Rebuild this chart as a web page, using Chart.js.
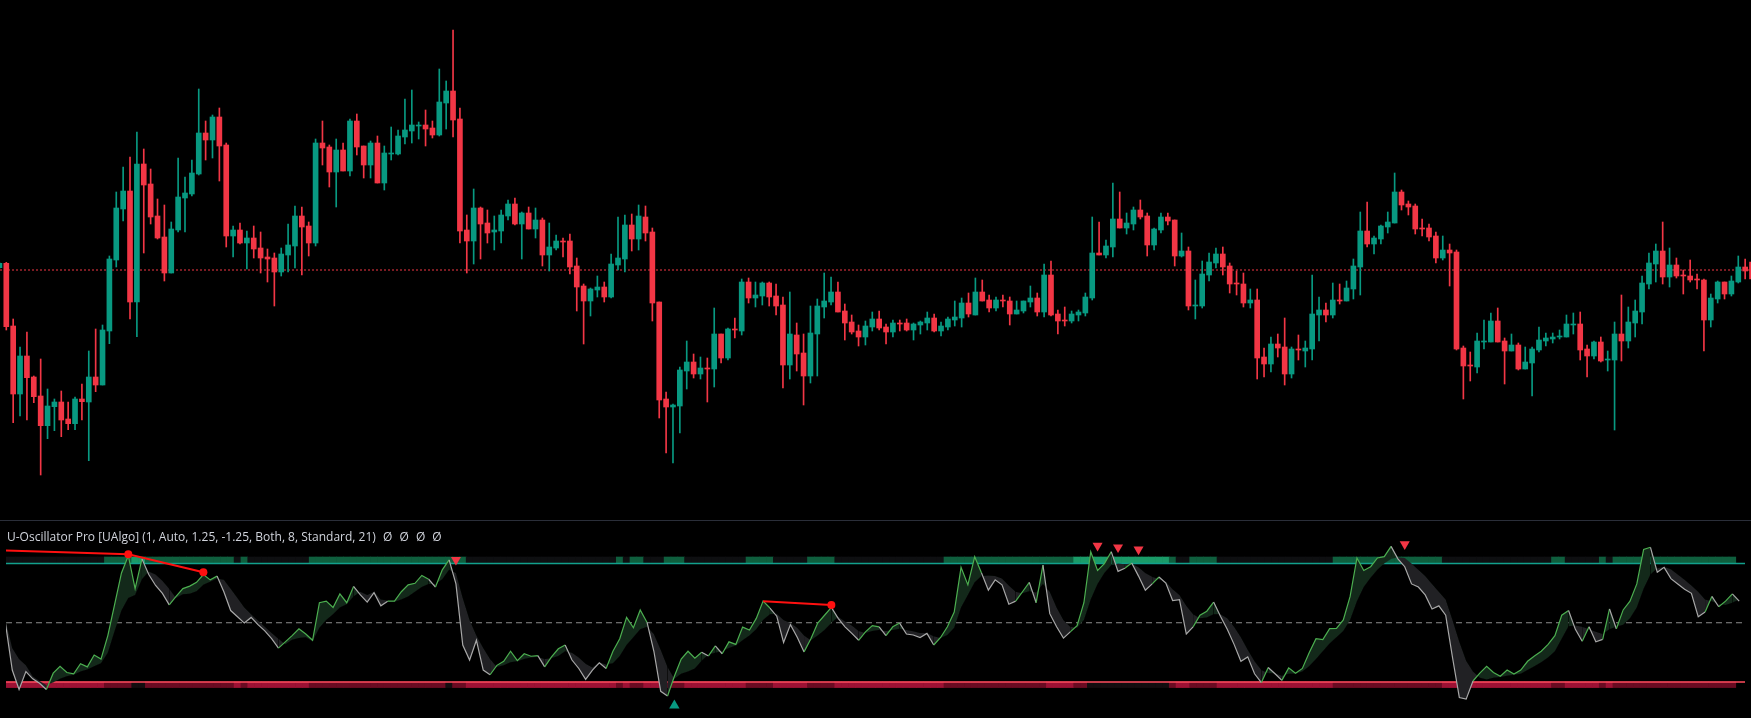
<!DOCTYPE html>
<html>
<head>
<meta charset="utf-8">
<script src="https://cdn.jsdelivr.net/npm/chart.js@4.4.0/dist/chart.umd.min.js"></script>
<style>
  html, body { margin: 0; padding: 0; background: #000; overflow: hidden; }
  #wrap { position: relative; width: 1751px; height: 718px; background: #000; }
  #priceChart { position: absolute; left: 0; top: 0; }
  #oscChart { position: absolute; left: 0; top: 520px; }
  #sep { position: absolute; left: 0; top: 520px; width: 1751px; height: 1px; background: #2a2e39; }
  #legend { position: absolute; left: 7px; top: 528px; font: 12px "Open Sans", sans-serif; color: #d1d4dc; white-space: pre; line-height: 17px; }
  #legend span.z { margin-left: 4px; }
</style>
</head>
<body>
<div id="wrap">
  <canvas id="priceChart" width="1751" height="520"></canvas>
  <canvas id="oscChart" width="1751" height="198"></canvas>
  <div id="sep"></div>
  <div id="legend">U-Oscillator Pro [UAlgo] (1, Auto, 1.25, -1.25, Both, 8, Standard, 21) <span class="z">Ø</span> <span class="z">Ø</span> <span class="z">Ø</span> <span class="z">Ø</span></div>
</div>
<script>
// price candles, one bar per entry
var opens = [
  757,770,582,378,492,429,372,283,340,354,303,289,363,354,429,405,
  567,780,933,987,654,1068,1008,912,849,741,870,966,978,1038,1161,1140,
  1209,1125,852,870,831,846,816,789,786,744,795,822,912,882,831,1131,
  1119,1044,1110,1047,1197,1122,1065,1131,1011,1098,1098,1149,1167,1182,1185,1176,
  1155,1251,1287,1203,870,837,936,891,864,867,912,948,888,921,873,900,
  795,816,837,837,762,702,657,690,699,669,765,783,885,843,909,864,
  654,363,339,342,447,474,438,456,453,558,486,573,567,714,666,672,
  711,672,645,465,555,501,432,558,639,654,684,627,594,567,549,579,
  603,579,564,591,591,570,585,591,606,567,579,600,606,651,615,684,
  660,636,660,657,618,627,654,666,624,735,618,600,597,615,621,666,
  801,795,819,903,876,888,930,912,825,870,909,900,792,807,642,642,
  735,771,798,762,711,708,651,660,489,468,528,519,438,513,507,513,
  615,630,615,660,657,693,759,867,828,843,879,891,984,948,942,876,
  876,852,786,810,804,516,465,459,534,534,597,537,507,525,453,471,
  510,537,543,549,549,585,588,513,492,534,480,480,558,537,591,624,
  708,768,807,729,765,735,732,723,720,600,663,714,678,714,759,774
];
var highs = [
  772,773,603,519,564,432,483,393,363,387,354,369,408,507,573,585,
  792,984,1059,1089,1164,1113,1053,963,945,894,1086,1029,1080,1293,1197,1215,
  1236,1131,882,891,867,882,864,813,801,816,888,942,939,894,1143,1197,
  1125,1143,1131,1203,1218,1122,1137,1152,1122,1179,1170,1263,1290,1194,1230,1197,
  1353,1317,1470,1236,915,993,939,930,912,930,960,966,924,939,936,906,
  891,855,846,858,786,708,696,732,714,798,909,915,918,945,942,876,
  654,384,348,459,537,498,489,486,636,558,576,606,723,726,714,714,
  714,708,669,684,591,558,642,663,741,729,714,648,615,585,597,624,
  627,588,600,600,603,591,597,624,618,594,609,657,666,681,726,720,
  675,669,675,669,657,657,702,681,768,777,630,639,627,630,681,909,
  894,840,1011,984,921,939,960,921,876,921,921,900,861,819,720,777,
  801,816,819,771,747,741,693,693,516,549,558,606,519,555,537,735,
  669,651,711,708,717,783,924,954,852,885,924,1041,990,957,948,903,
  888,864,852,828,810,522,504,561,600,621,636,546,558,531,519,519,
  579,561,561,570,615,621,624,525,537,549,507,594,675,639,660,732,
  801,828,894,816,786,750,780,738,723,678,717,714,732,792,783,790
];
var lows = [
  755,570,292,312,300,352,135,244,268,250,271,271,300,178,385,405,
  529,759,897,603,550,801,888,843,717,741,864,864,972,1035,1080,1086,
  1017,819,789,828,753,786,741,714,642,732,744,756,735,792,822,1065,
  999,939,1047,1032,1095,1026,1026,1011,990,1080,1095,1128,1131,1143,1122,1146,
  1152,1173,1149,831,741,768,783,831,810,831,900,885,783,873,846,762,
  747,810,789,738,627,528,612,669,654,666,750,744,807,810,837,597,
  306,201,171,261,393,426,423,354,399,471,480,546,555,651,639,645,
  642,615,396,423,447,345,411,432,606,645,624,540,558,522,525,567,
  570,528,549,567,567,540,558,570,564,552,570,582,579,609,615,657,
  624,627,639,585,618,621,639,612,609,612,558,582,591,597,612,660,
  795,786,789,876,858,870,903,792,810,861,885,762,789,630,603,636,
  717,756,735,681,675,639,636,423,429,444,489,405,426,480,459,480,
  537,594,606,648,657,663,675,819,798,828,861,891,930,915,858,852,
  837,771,780,702,510,363,417,441,513,534,534,408,507,450,453,372,
  504,522,531,543,549,558,480,429,483,474,447,270,477,516,549,588,
  693,714,708,699,726,678,714,693,507,579,651,663,672,711,723,714
];
var closes = [
  770,580,378,492,427,370,283,342,354,300,289,363,355,429,405,570,
  783,936,987,654,1068,1005,909,846,741,873,969,981,1041,1161,1140,1209,
  1122,852,870,831,846,813,786,783,744,798,825,912,879,831,1131,1116,
  1044,1110,1047,1197,1119,1065,1131,1011,1101,1101,1152,1170,1185,1185,1173,1155,
  1254,1287,1200,867,837,936,888,861,870,915,948,888,921,873,900,795,
  819,837,834,759,699,657,693,699,669,768,786,885,843,912,861,651,
  360,339,345,450,474,438,456,453,558,486,573,570,714,666,675,711,
  669,642,465,558,498,432,561,642,657,684,624,591,564,549,582,603,
  576,564,591,588,570,588,594,606,567,582,603,609,651,618,684,657,
  636,660,657,618,630,657,666,624,735,615,597,597,618,624,669,801,
  795,822,903,876,891,930,909,825,873,909,897,792,807,642,645,738,
  774,798,759,708,708,651,660,486,468,528,516,438,513,510,516,618,
  630,615,660,657,696,762,867,828,846,882,894,984,945,939,873,873,
  849,786,810,801,513,462,462,537,537,597,534,507,525,453,474,513,
  540,546,549,552,588,588,510,492,534,477,483,558,537,594,627,711,
  771,807,729,765,732,732,720,720,600,666,714,678,717,759,747,723
];
var lastPrice = 750;

// oscillator and its signal
var oscMain = [
  -1,-151,-213,-156,-179,-193,-213,-161,-139,-159,-163,-131,-141,-103,-116,-41,
  59,159,214,109,204,154,119,94,57,84,109,117,129,154,137,149,
  99,39,19,-1,17,-6,-26,-51,-81,-61,-41,-19,-36,-56,64,69,
  49,92,64,116,89,66,96,54,69,69,99,121,126,151,139,114,
  169,201,124,-71,-119,-56,-151,-166,-136,-123,-91,-121,-99,-107,-105,-141,
  -109,-83,-71,-119,-146,-181,-151,-128,-146,-91,-51,17,-16,41,1,-91,
  -219,-234,-171,-116,-91,-113,-94,-106,-74,-99,-61,-69,-14,-23,14,69,
  47,21,-63,-6,-46,-93,-51,-1,24,49,14,-13,-34,-56,-29,-9,
  -13,-41,-13,-1,-36,-39,-47,-34,-71,-47,-13,34,177,121,211,159,
  104,137,121,59,69,99,129,64,184,29,-13,-49,-29,-9,64,227,
  167,189,227,164,174,191,149,104,124,146,127,71,74,-36,-13,24,
  37,66,21,-21,-69,-123,-109,-163,-191,-143,-163,-184,-144,-161,-146,-96,
  -51,-54,-19,-18,9,84,207,167,179,207,211,244,204,179,124,114,
  89,44,54,24,-111,-239,-244,-186,-161,-139,-159,-171,-151,-164,-151,-123,
  -106,-91,-69,-41,24,39,-21,-59,-13,-61,-53,44,-19,41,69,124,
  234,241,161,177,141,124,107,94,19,34,84,51,69,92,69,null
];
var oscSignal = [
  10,-81,-116,-136,-171,-186,-199,-191,-179,-171,-166,-156,-149,-139,-129,-96,
  -26,39,79,89,139,164,154,134,109,79,91,93,101,121,131,141,
  137,109,79,49,27,7,-13,-33,-51,-69,-54,-49,-46,-59,-16,9,
  27,49,59,84,99,89,99,74,71,67,74,84,99,114,124,124,
  139,169,159,79,9,-41,-81,-116,-141,-136,-126,-123,-116,-111,-109,-116,
  -113,-106,-91,-96,-111,-131,-143,-126,-133,-129,-106,-71,-46,-21,-13,-36,
  -86,-141,-179,-163,-156,-146,-121,-101,-96,-91,-81,-73,-56,-41,-21,9,
  27,29,9,-1,-16,-41,-56,-41,-23,-1,19,4,-9,-26,-33,-26,
  -23,-26,-23,-19,-23,-27,-33,-33,-43,-49,-39,-16,49,89,129,149,
  151,149,141,119,99,94,101,97,124,99,49,9,-13,-16,9,74,
  124,159,184,189,187,189,177,159,147,139,131,107,89,54,27,14,
  17,27,27,14,-13,-46,-86,-123,-151,-161,-161,-169,-163,-163,-156,-139,
  -116,-91,-66,-46,-26,9,69,114,144,169,189,204,209,207,189,169,
  149,124,99,74,9,-61,-121,-156,-176,-181,-176,-173,-169,-166,-163,-151,
  -139,-126,-111,-91,-51,-11,-9,-13,-21,-29,-36,-21,-13,-6,14,49,
  109,154,174,179,171,154,137,119,99,74,69,59,57,64,74,null
];
// zone strength above the upper band (0 none, 1 bull, 2 strong) and below the lower band (0 none, 1 weak, 2 bear)
var upperZone = [
  0,0,0,0,0,0,0,0,0,0,0,0,0,0,0,1,
  1,1,1,2,2,1,1,1,1,1,1,1,1,1,1,1,
  1,1,0,1,0,0,0,0,0,0,0,0,0,1,1,1,
  1,1,1,1,1,1,1,1,1,1,1,1,1,1,1,1,
  1,1,1,1,0,0,0,0,0,0,0,0,0,0,0,0,
  0,0,0,0,0,0,0,0,0,0,1,0,1,1,0,0,
  0,1,1,1,0,0,0,0,0,0,0,0,0,1,1,1,
  1,0,0,0,0,0,1,1,1,1,0,0,0,0,0,0,
  0,0,0,0,0,0,0,0,0,0,1,1,1,1,1,1,
  1,1,1,1,1,1,1,1,1,1,1,1,1,2,2,2,
  2,2,2,2,2,2,2,2,2,2,2,1,0,0,1,1,
  1,1,0,0,0,0,0,0,0,0,0,0,0,0,0,0,
  0,0,0,1,1,1,1,1,1,1,1,1,1,1,1,1,
  1,1,1,0,0,0,0,0,0,0,0,0,0,0,0,0,
  0,0,0,1,1,0,0,0,0,0,1,0,1,1,1,1,
  1,1,1,1,1,1,1,1,1,1,1,1,1,1,null,null
];
var lowerZone = [
  2,2,2,2,2,2,2,2,2,2,2,2,2,2,2,1,
  1,1,1,0,0,1,1,1,1,1,1,1,1,1,1,1,
  1,1,2,1,2,2,2,2,2,2,2,2,2,1,1,1,
  1,1,1,1,1,1,1,1,1,1,1,1,1,1,1,1,
  1,0,1,1,2,2,2,2,2,2,2,2,2,2,2,2,
  2,2,2,2,2,2,2,2,2,2,1,2,1,1,2,2,
  2,1,1,1,2,2,2,2,2,2,2,2,2,1,1,1,
  1,2,2,2,2,2,1,1,1,1,2,2,2,2,2,2,
  2,2,2,2,2,2,2,2,2,2,1,1,1,1,1,1,
  1,1,1,1,1,1,1,1,1,2,2,2,2,1,1,0,
  0,0,0,0,0,0,0,0,0,0,0,1,2,2,1,1,
  1,1,2,2,2,2,2,2,2,2,2,2,2,2,2,2,
  2,2,2,1,1,1,1,1,1,1,1,1,1,1,1,1,
  1,1,1,2,2,2,2,2,2,2,2,2,2,2,2,2,
  2,2,2,1,1,2,2,2,2,2,1,2,1,1,1,1,
  1,1,1,1,1,1,1,1,1,1,1,1,1,1,null,null
];
var upperBand = 189, lowerBand = -189, midLevel = 0;

// signals: bar index and value
var sellBars = [66, 160, 163, 166, 205];
var sellVals = [201, 246, 241, 234, 251];
var buyBars = [98];
var buyVals = [-264];
var divBars1 = [0, 18, 29];
var divVals1 = [231, 219, 161];
var divBars2 = [111, 121];
var divVals2 = [69, 57];

var xMin = 0.083, xMax = 254.85;
var upColor = '#089981', downColor = '#f23645';

var idx = closes.map(function (c, i) { return i; });
var candleColors = idx.map(function (i) { return closes[i] >= opens[i] ? upColor : downColor; });

var noChrome = {
  responsive: false,
  animation: false,
  devicePixelRatio: 1,
  layout: { padding: 0 },
  plugins: { legend: { display: false }, tooltip: { enabled: false } }
};

new Chart(document.getElementById('priceChart'), {
  type: 'bar',
  data: {
    datasets: [
      {
        data: idx.map(function (i) { return { x: i, y: [opens[i], closes[i]] }; }),
        backgroundColor: candleColors,
        barThickness: 5,
        minBarLength: 1,
        grouped: false,
        order: 1
      },
      {
        data: idx.map(function (i) { return { x: i, y: [lows[i], highs[i]] }; }),
        backgroundColor: candleColors,
        barThickness: 1,
        grouped: false,
        order: 2
      },
      {
        type: 'line',
        data: [{ x: xMin, y: lastPrice }, { x: xMax, y: lastPrice }],
        borderColor: downColor,
        borderWidth: 1,
        borderDash: [2, 2],
        pointRadius: 0,
        order: 3
      }
    ]
  },
  options: Object.assign({}, noChrome, {
    scales: {
      x: { type: 'linear', min: xMin, max: xMax, offset: false, display: false },
      y: { min: 0, max: 1560, display: false }
    }
  })
});

var upZoneColors = ['#0e0f11', '#0f5f3e', '#1a9b68'];
var dnZoneColors = ['#130d0f', '#6a0b22', '#9d1134'];
var upIdx = idx.filter(function (i) { return upperZone[i] !== null; });
var dnIdx = idx.filter(function (i) { return lowerZone[i] !== null; });

function flatLine(v) {
  return [{ x: xMin, y: v }, { x: xMax, y: v }];
}
function pts(xsArr, ysArr) {
  return xsArr.map(function (x, k) { return { x: x, y: ysArr[k] }; });
}

new Chart(document.getElementById('oscChart'), {
  type: 'line',
  data: {
    datasets: [
      {
        label: 'osc',
        data: idx.map(function (i) { return { x: i, y: oscMain[i] }; }),
        borderWidth: 1.2,
        borderColor: '#4caf50',
        segment: {
          borderColor: function (c) {
            var k = c.p1DataIndex;
            return oscMain[k] >= oscSignal[k] ? '#4caf50' : '#a8a8a8';
          }
        },
        pointRadius: 0,
        fill: { target: 1, above: '#13291a', below: '#212124' },
        order: 6
      },
      {
        label: 'signal',
        data: idx.map(function (i) { return { x: i, y: oscSignal[i] }; }),
        borderColor: 'transparent',
        borderWidth: 1,
        pointRadius: 0,
        fill: false,
        order: 7
      },
      {
        type: 'bar',
        data: upIdx.map(function (i) { return { x: i, y: [upperBand, upperBand + 21] }; }),
        backgroundColor: upIdx.map(function (i) { return upZoneColors[upperZone[i]]; }),
        barPercentage: 1,
        categoryPercentage: 1,
        grouped: false,
        order: 10
      },
      {
        type: 'bar',
        data: dnIdx.map(function (i) { return { x: i, y: [lowerBand - 18, lowerBand] }; }),
        backgroundColor: dnIdx.map(function (i) { return dnZoneColors[lowerZone[i]]; }),
        barPercentage: 1,
        categoryPercentage: 1,
        grouped: false,
        order: 10
      },
      { data: flatLine(upperBand), borderColor: '#12a08c', borderWidth: 1.5, pointRadius: 0, order: 8 },
      { data: flatLine(lowerBand), borderColor: '#ff4d5e', borderWidth: 1.5, pointRadius: 0, order: 8 },
      { data: flatLine(midLevel), borderColor: '#8c8c8c', borderWidth: 1, borderDash: [6, 4], pointRadius: 0, order: 8 },
      {
        data: pts(divBars1, divVals1),
        borderColor: '#ff1010',
        borderWidth: 2,
        pointRadius: [0, 4, 4],
        pointBackgroundColor: '#ff1010',
        pointBorderWidth: 0,
        order: 2
      },
      {
        data: pts(divBars2, divVals2),
        borderColor: '#ff1010',
        borderWidth: 2,
        pointRadius: [0, 4],
        pointBackgroundColor: '#ff1010',
        pointBorderWidth: 0,
        order: 2
      },
      {
        data: pts(sellBars, sellVals),
        showLine: false,
        pointStyle: 'triangle',
        rotation: 180,
        pointRadius: 5.8,
        pointBackgroundColor: '#f23645',
        pointBorderColor: '#f23645',
        pointBorderWidth: 0,
        order: 1
      },
      {
        data: pts(buyBars, buyVals),
        showLine: false,
        pointStyle: 'triangle',
        pointRadius: 6,
        pointBackgroundColor: '#089981',
        pointBorderColor: '#089981',
        pointBorderWidth: 0,
        order: 1
      }
    ]
  },
  options: Object.assign({}, noChrome, {
    scales: {
      x: { type: 'linear', min: xMin, max: xMax, offset: false, display: false },
      y: { min: -285, max: 309, display: false }
    }
  })
});
</script>
</body>
</html>
